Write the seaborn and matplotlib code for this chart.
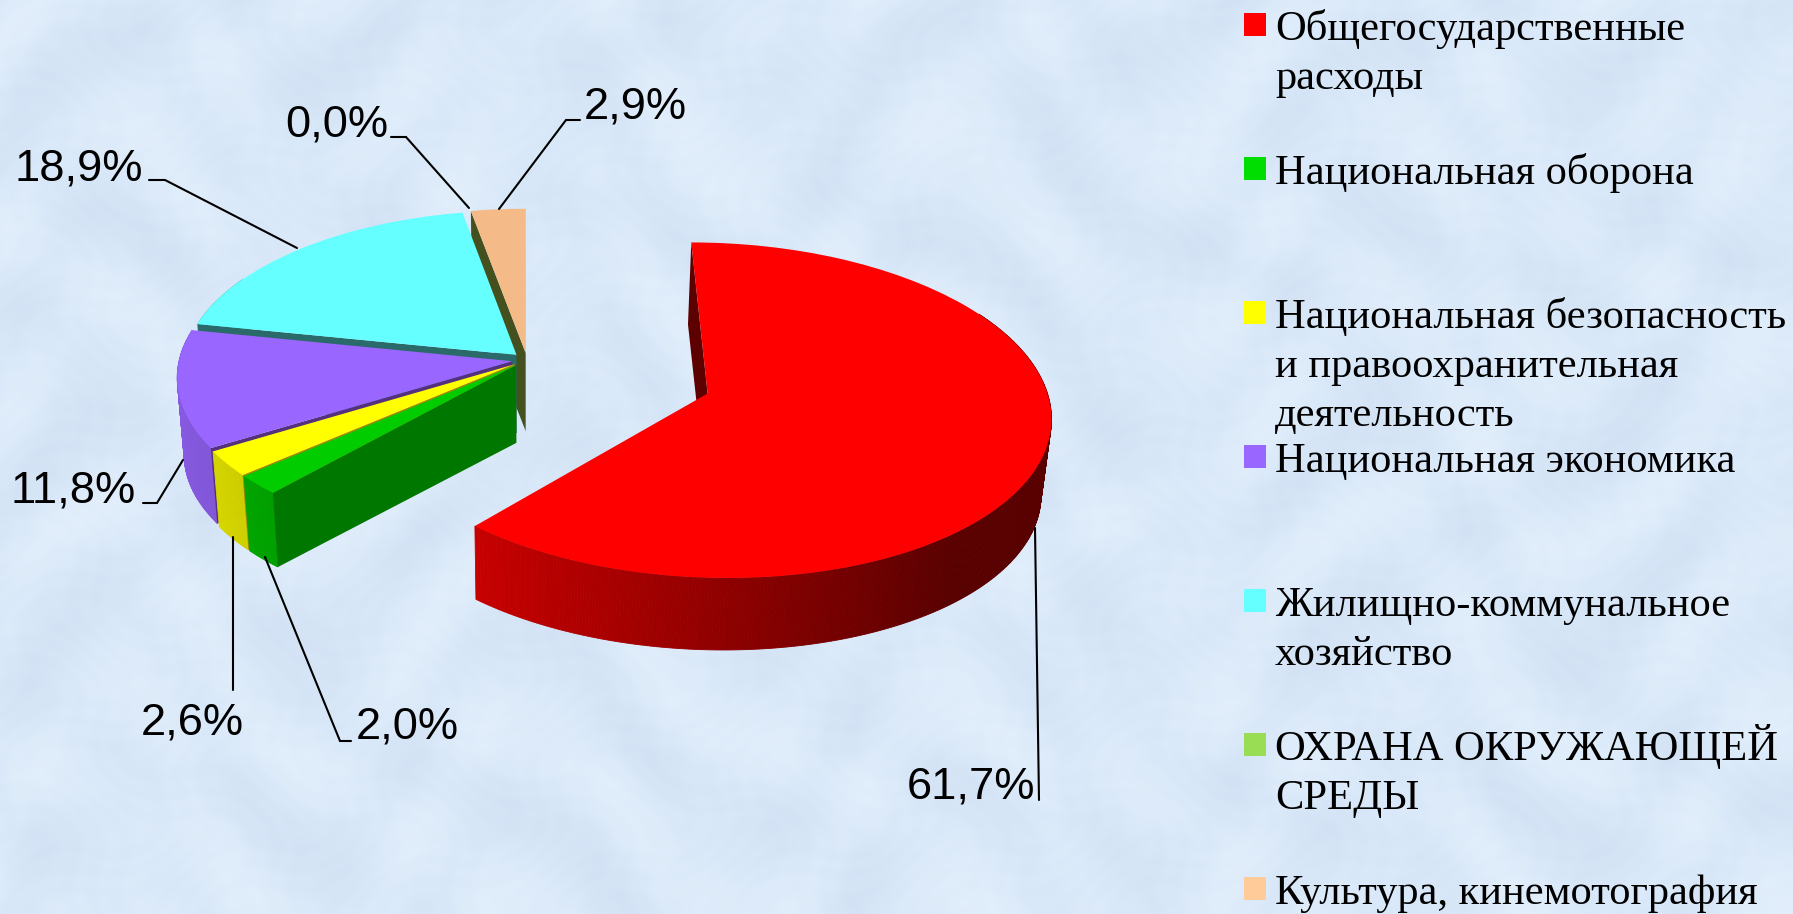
import numpy as np
import matplotlib
matplotlib.use('Agg')
import matplotlib.pyplot as plt
from matplotlib.colors import to_rgb
from matplotlib.patches import Rectangle
from matplotlib.transforms import Transform
import seaborn as sns

# --- data ---
categories = ['Общегосударственные\nрасходы', 'Национальная оборона',
              'Национальная безопасность\nи правоохранительная\nдеятельность',
              'Национальная экономика', 'Жилищно-коммунальное\nхозяйство',
              'ОХРАНА ОКРУЖАЮЩЕЙ\nСРЕДЫ', 'Культура, кинемотография']
shares = [61.7, 2.0, 2.6, 11.8, 18.9, 0.0, 2.9]

slice_colors = ['#ff0000', '#00cc00', '#ffff00', '#9966ff', '#66ffff', '#99dd55', '#f4bb88']
wall_colors = ['#5c0000', '#007800', '#a08a00', '#54307f', '#2a6a6a', '#44511f', '#44511f']
legend_colors = ['#ff0000', '#00dd00', '#ffff00', '#9966ff', '#66ffff', '#99dd55', '#ffcc99']
explode = [0.57, 0.045, 0.045, 0.045, 0.045, 0.045, 0.045]

# label left edge / middle, then the leader line, all in image pixels
label_pos = [(907, 787), (356, 727), (141, 723), (11, 491), (15, 169), (285, 125), (584, 107)]
leaders = [[(1039, 800), (1035, 528)],
           [(351, 741), (340, 741), (265, 557)],
           [(233, 690), (233, 537)],
           [(143, 503), (157, 503), (183, 460)],
           [(149, 180), (165, 180), (297, 248)],
           [(391, 137), (406, 137), (469, 208)],
           [(580, 120), (566, 120), (499, 209)]]

W, H = 1793, 914
CX, CY, RX, RY, PERSP = 527, 360, 333, 159.5, 0.0976


def project(u, v, z=0.0):
    # pie plane -> image pixels, z=1 is the underside of the disc
    u, v = np.asarray(u, float), np.asarray(v, float)
    w = 1 + PERSP * v
    return CX + RX * u / w * (1 - 0.02 * z), CY - RY * v / w + z * (78 + 5 * v)


class PieProjection(Transform):
    input_dims = output_dims = 2
    is_affine = False

    def transform_non_affine(self, xy):
        xy = np.asarray(xy)
        return np.column_stack(project(xy[:, 0], xy[:, 1]))


def face_visible(wd, a):
    # a cut face shows only when the slice's top lies above it on screen
    mid = np.radians((wd.theta1 + wd.theta2) / 2)
    cu, cv = wd.center
    th = np.radians(a)
    px, py = project(cu, cv)
    qx, qy = project(cu + wd.r * np.cos(th), cv + wd.r * np.sin(th))
    mx, my = project(cu + 0.5 * wd.r * np.cos(mid), cv + 0.5 * wd.r * np.sin(mid))
    if qx < px:
        px, py, qx, qy = qx, qy, px, py
    return (qx - px) * (my - py) - (qy - py) * (mx - px) < 0


sns.set_theme(style='white')
plt.rcParams['font.family'] = ['Liberation Sans', 'DejaVu Sans']

fig = plt.figure(figsize=(W / 100, H / 100), dpi=100, facecolor='#d9e8f8')
ax = fig.add_axes([0, 0, 1, 1])

wedges, _ = ax.pie(shares, explode=explode, colors=sns.color_palette(slice_colors),
                   startangle=90, counterclock=False, wedgeprops={'linewidth': 0})
ax.set_aspect('auto')
ax.set_axis_off()

# soft mottled backdrop
yy, xx = np.mgrid[0:H:3, 0:W:3]
mott = (np.sin(xx / 41 + 4 * np.sin(yy / 83)) + np.sin(yy / 31 + 4 * np.sin(xx / 67))
        + 0.5 * np.sin(xx / 9 + 5 * np.sin(yy / 23)) * np.sin(yy / 8 + 5 * np.sin(xx / 29))) / 2.5
ax.imshow(mott, extent=(0, W, H, 0), cmap=sns.blend_palette(['#d2e2f4', '#dae9f9', '#e2eefb'], as_cmap=True),
          aspect='auto', zorder=0, vmin=-1, vmax=1)
ax.set_xlim(0, W)
ax.set_ylim(H, 0)

# back slices first, the red one last
for rank, i in enumerate([6, 5, 4, 3, 2, 1, 0]):
    wd = wedges[i]
    z0 = 10 + rank * 10
    cu, cv = wd.center
    if shares[i] > 0:
        # curved rim, darker towards the right; the far part never shows
        angles = np.arange(wd.theta1, wd.theta2 + 0.5, 0.5)
        angles[-1] = wd.theta2
        base = np.array(to_rgb(slice_colors[i]))
        for a, b in zip(angles[:-1], angles[1:]):
            th = np.radians([a, b])
            if np.sin(th.mean()) > 0.5:
                continue
            u, v = cu + wd.r * np.cos(th), cv + wd.r * np.sin(th)
            x0, y0 = project(u, v, 0)
            x1, y1 = project(u[::-1], v[::-1], 1)
            c = np.clip(0.56 - 0.33 * np.cos(th.mean()), 0.35, 0.9)
            ax.fill(np.r_[x0, x1], np.r_[y0, y1], color=tuple(base * c), lw=0.6, zorder=z0)
        # flat cut faces on top of the rim
        for a in (wd.theta1, wd.theta2):
            if not face_visible(wd, a):
                continue
            ou = cu + wd.r * np.cos(np.radians(a))
            ov = cv + wd.r * np.sin(np.radians(a))
            x0, y0 = project([cu, ou], [cv, ov], 0)
            x1, y1 = project([ou, cu], [ov, cv], 1)
            ax.fill(np.r_[x0, x1], np.r_[y0, y1], color=wall_colors[i], lw=0, zorder=z0 + 1)
    wd.set_transform(PieProjection() + ax.transData)
    wd.set_zorder(z0 + 2)

# leader lines and percentages
for i, v in enumerate(shares):
    xs, ys = zip(*leaders[i])
    ax.plot(xs, ys, color='black', lw=1.5, zorder=90, solid_joinstyle='miter')
    ax.text(label_pos[i][0], label_pos[i][1], f'{v:.1f}%'.replace('.', ','), fontsize=32.6,
            color='black', ha='left', va='center', zorder=91)

# legend, one entry every 144 px, lines placed one by one so caps sit level
for i, name in enumerate(categories):
    top = 13 + i * 144
    ax.add_patch(Rectangle((1244, top), 22, 23, facecolor=legend_colors[i], lw=0, zorder=91))
    for k, line in enumerate(name.split('\n')):
        ax.text(1275, top + 27 + k * 49, line, family=['Liberation Serif', 'DejaVu Serif'], fontsize=30.6,
                color='black', ha='left', va='baseline', zorder=91)

fig.savefig('out.png', dpi=100, facecolor=fig.get_facecolor())
plt.close(fig)
